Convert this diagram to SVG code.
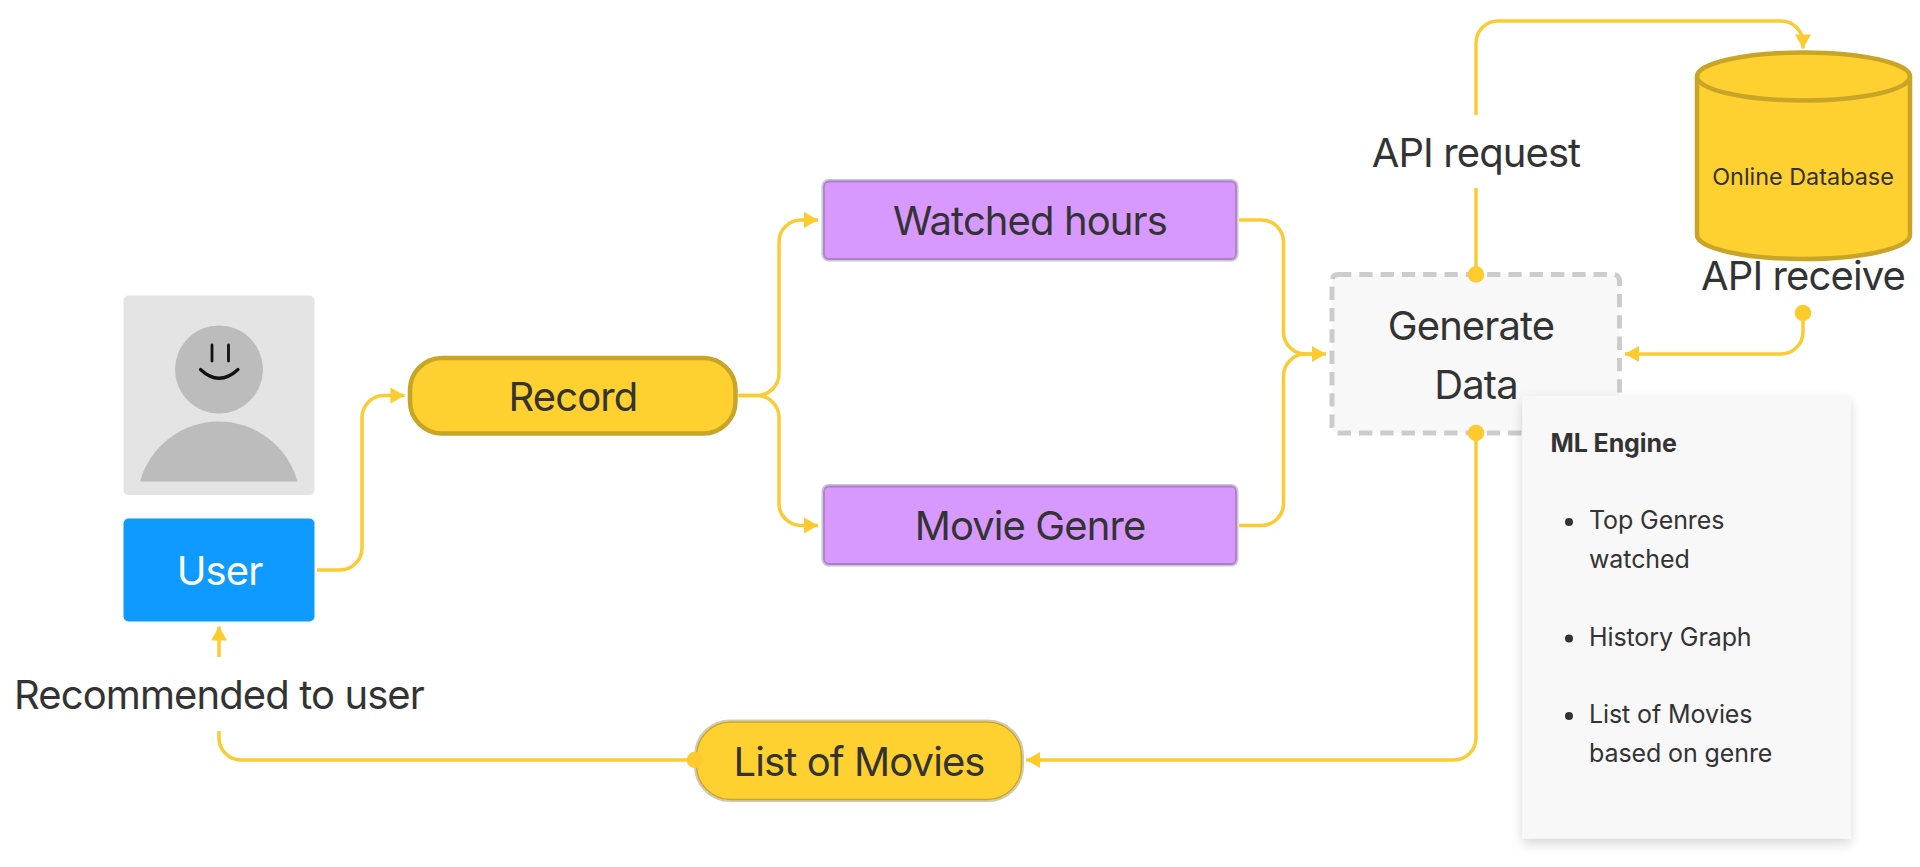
<svg xmlns="http://www.w3.org/2000/svg" width="1920" height="867" viewBox="0 0 1920 867">
<style>
text{font-family:"Inter","Liberation Sans",sans-serif;fill:#333;text-anchor:middle}
.lg{font-size:40px;letter-spacing:-0.9px}
.sm{font-size:25px;text-anchor:start;letter-spacing:-0.1px}
.line{fill:none;stroke:#fbcb33;stroke-width:3.5}
.dot{fill:#fdcb2e}
.pill{fill:#ffd130;stroke:#c9a527;stroke-width:4.500}
.purple{fill:#d899ff;stroke:#ab80c8;stroke-width:1.800}
.halo{fill:none;stroke:#cdc4d4;stroke-width:2}
</style>
<defs>
<marker id="arrow" markerUnits="userSpaceOnUse" markerWidth="17" markerHeight="18" refX="14.500" refY="8.500" orient="auto"><path d="M0.500 0.500L14.500 8.500L0.500 16.500Z" fill="#fdcb2e"/></marker>
<filter id="shadow" x="-15%" y="-10%" width="130%" height="120%"><feDropShadow dx="0" dy="5" stdDeviation="6" flood-color="#000" flood-opacity="0.16"/></filter>
</defs>
<rect width="1920" height="867" fill="#fff"/>
<g id="connectors">
<path class="line" marker-end="url(#arrow)" d="M317 570H340A22 22 0 0 0 362 548V417.500A22 22 0 0 1 384 395.500H404.500"/>
<path class="line" marker-end="url(#arrow)" d="M738.500 395.500H757A22 22 0 0 0 779 373.500V242A22 22 0 0 1 801 220H818"/>
<path class="line" marker-end="url(#arrow)" d="M738.500 395.500H757A22 22 0 0 1 779 417.500V503.500A22 22 0 0 0 801 525.500H818"/>
<path class="line" d="M1239 220H1261.500A22 22 0 0 1 1283.500 242V332A22 22 0 0 0 1305.500 354H1320"/>
<path class="line" marker-end="url(#arrow)" d="M1239 525.500H1261.500A22 22 0 0 0 1283.500 503.500V376A22 22 0 0 1 1305.500 354H1326"/>
<path class="line" d="M1476 274V188"/>
<path class="line" marker-end="url(#arrow)" d="M1476 115V43A22 22 0 0 1 1498 21H1781A22 22 0 0 1 1803 43V48.500"/>
<path class="line" marker-end="url(#arrow)" d="M1803 313V332A22 22 0 0 1 1781 354H1625"/>
<path class="line" marker-end="url(#arrow)" d="M1476 433V738A22 22 0 0 1 1454 760H1026"/>
<path class="line" d="M693 760H241A22 22 0 0 1 219 738V731"/>
<path class="line" marker-end="url(#arrow)" d="M219 657V626.500"/>
</g>
<g id="avatar">
<rect x="123.500" y="295.500" width="191" height="199.500" rx="5" fill="#e4e4e4"/>
<circle cx="219" cy="369.500" r="44" fill="#bcbcbc"/>
<path d="M140 481.500A81.700 81.700 0 0 1 297.500 481.500Z" fill="#bcbcbc"/>
<path d="M212 345V361M228.500 345V361" stroke="#111" stroke-width="2.800" fill="none" stroke-linecap="round"/>
<path d="M200.500 369.500Q219 387 238 369.500" stroke="#111" stroke-width="3.200" fill="none" stroke-linecap="round"/>
</g>
<g id="user">
<rect x="123.500" y="518.500" width="191" height="103" rx="5" fill="#0f9aff"/>
<text class="lg" x="219.500" y="585" style="fill:#fff">User</text>
</g>
<g id="record">
<rect class="pill" x="410" y="358" width="325.500" height="75.500" rx="32"/>
<text class="lg" x="573" y="411">Record</text>
</g>
<g id="watched-hours">
<rect class="halo" x="822.500" y="180" width="415" height="80.500" rx="6"/>
<rect class="purple" x="824" y="181.500" width="412" height="77.500" rx="5"/>
<text class="lg" x="1030" y="235">Watched hours</text>
</g>
<g id="movie-genre">
<rect class="halo" x="822.500" y="485" width="415" height="80.500" rx="6"/>
<rect class="purple" x="824" y="486.500" width="412" height="77.500" rx="5"/>
<text class="lg" x="1030" y="540">Movie Genre</text>
</g>
<g id="generate-data">
<rect x="1332" y="274.500" width="287.500" height="158.500" rx="6" fill="#f8f8f8" stroke="#cccccc" stroke-width="5" stroke-dasharray="13.300 8"/>
<text class="lg" x="1471" y="339.500">Generate</text>
<text class="lg" x="1476" y="398.500">Data</text>
<circle class="dot" cx="1476" cy="274.500" r="8.300"/>
<circle class="dot" cx="1476" cy="433" r="8.300"/>
</g>
<g id="ml-engine">
<rect x="1522.500" y="396" width="328" height="442.500" fill="#f8f8f8" filter="url(#shadow)"/>
<text class="sm" x="1550.500" y="452" font-weight="700">ML Engine</text>
<circle cx="1569" cy="522" r="4" fill="#333"/>
<text class="sm" x="1589" y="529">Top Genres</text>
<text class="sm" x="1589" y="568">watched</text>
<circle cx="1569" cy="638.500" r="4" fill="#333"/>
<text class="sm" x="1589" y="645.500">History Graph</text>
<circle cx="1569" cy="716" r="4" fill="#333"/>
<text class="sm" x="1589" y="723">List of Movies</text>
<text class="sm" x="1589" y="762">based on genre</text>
</g>
<g id="online-database">
<path class="pill" d="M1697 76.500A106.500 24 0 0 1 1910 76.500V235A106.500 24 0 0 1 1697 235Z"/>
<path class="pill" style="fill:none" d="M1697 76.500A106.500 24 0 0 0 1910 76.500"/>
<text x="1803" y="185" font-size="23.400">Online Database</text>
</g>
<g id="list-of-movies">
<rect x="695" y="720.500" width="328" height="80.500" rx="35" fill="none" stroke="#cfcab4" stroke-width="2"/>
<rect x="696.500" y="722" width="325" height="77.500" rx="34" fill="#ffd130" stroke="#c9a527" stroke-width="1.500"/>
<text class="lg" x="859" y="775.500">List of Movies</text>
<circle class="dot" cx="695" cy="760" r="8.300"/>
</g>
<g id="labels">
<text class="lg" x="1476" y="166.500">API request</text>
<text class="lg" x="1803" y="289.500">API receive</text>
<circle class="dot" cx="1803" cy="313" r="8.300"/>
<text class="lg" x="219" y="708.500">Recommended to user</text>
</g>
</svg>
